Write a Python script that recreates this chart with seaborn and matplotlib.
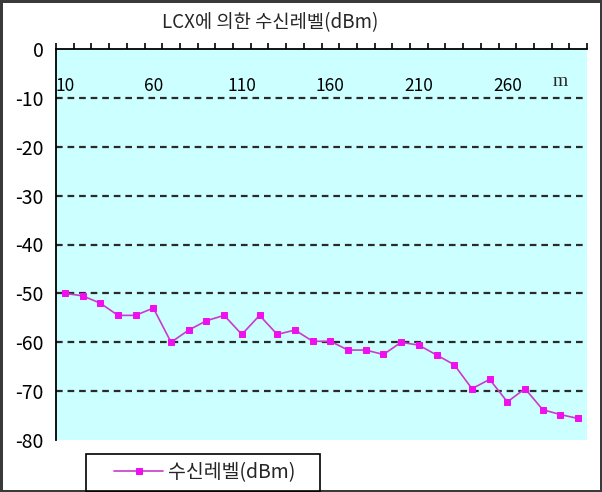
import matplotlib
matplotlib.use("Agg")
import matplotlib.pyplot as plt
from matplotlib.legend_handler import HandlerLine2D
import pandas as pd
import seaborn as sns

# Received level along the leaky coaxial cable (LCX), every 10 m
distance_m = [10, 20, 30, 40, 50, 60, 70, 80, 90, 100,
              110, 120, 130, 140, 150, 160, 170, 180, 190, 200,
              210, 220, 230, 240, 250, 260, 270, 280, 290, 300]
level_dbm = [-50.0, -50.5, -52.0, -54.5, -54.5, -53.0, -60.0, -57.5, -55.6, -54.5,
             -58.4, -54.5, -58.4, -57.5, -59.8, -59.8, -61.6, -61.6, -62.5, -60.0,
             -60.6, -62.6, -64.6, -69.5, -67.6, -72.2, -69.5, -73.8, -74.8, -75.6]
y_ticks = [0, -10, -20, -30, -40, -50, -60, -70, -80]
x_label_step = 5

title_text = "LCX에 의한 수신레벨(dBm)"
series_name = "수신레벨(dBm)"
unit_text = "m"

sns.set_style("white")
plt.rcParams["font.family"] = ["Noto Sans CJK KR", "DejaVu Sans"]

W, H = 602, 492
fig = plt.figure(figsize=(W / 100, H / 100), dpi=100, facecolor="white",
                 edgecolor="#3a3a3a", linewidth=2.5)

left, right, top, bottom = 56, 587, 49, 440
ax = fig.add_axes([left / W, 1 - bottom / H, (right - left) / W, (bottom - top) / H])
ax.set_facecolor("#ccffff")

df = pd.DataFrame({"distance": distance_m, "level": level_dbm})
sns.lineplot(data=df, x="distance", y="level", ax=ax, color="#c83cc8",
             linewidth=1.2, marker="s", markersize=5,
             markerfacecolor="#ee11ee", markeredgecolor="#ee11ee",
             legend=False)

step = distance_m[1] - distance_m[0]
ax.set_xlim(distance_m[0] - step / 2, distance_m[-1] + step / 2)
ax.set_ylim(y_ticks[-1], y_ticks[0])

# dashed guide lines for the interior levels
for yv in y_ticks[1:-1]:
    ax.axhline(yv, color="#2a2a2a", linewidth=1.6, linestyle=(0, (3, 2.2)), zorder=1)

for s in ("bottom", "right"):
    ax.spines[s].set_visible(False)
for s in ("top", "left"):
    ax.spines[s].set_color("black")
    ax.spines[s].set_linewidth(1.3)

# x axis sits on the 0 dBm line at the top
ax.xaxis.set_ticks_position("top")
ax.xaxis.set_label_position("top")
ax.set_xticks(distance_m[::x_label_step])
ax.set_xticklabels([str(d) for d in distance_m[::x_label_step]])
ax.set_xticks([d - step / 2 for d in distance_m] + [distance_m[-1] + step / 2], minor=True)
ax.tick_params(axis="x", which="major", length=0, pad=-33, labelsize=12.5, labelcolor="black")
ax.tick_params(axis="x", which="minor", length=4, width=1.2, direction="out", color="black")

ax.set_yticks(y_ticks)
ax.set_yticklabels([str(v) for v in y_ticks])
ax.tick_params(axis="y", length=0, pad=9, labelsize=14, labelcolor="black")
ax.set_xlabel("")
ax.set_ylabel("")

ax.text((560 - left) / (right - left), 1 - (81 - top) / (bottom - top), unit_text,
        transform=ax.transAxes, ha="center", va="center", fontsize=14,
        family="Liberation Serif")

fig.text(270 / W, 1 - 23 / H, title_text, ha="center", va="center", fontsize=13.5)

leg = fig.legend(handles=[ax.lines[0]], labels=[series_name + "    "],
                 loc="upper left", bbox_to_anchor=(86 / W, 1 - 454 / H),
                 borderaxespad=0, fancybox=False, frameon=True, framealpha=1,
                 edgecolor="black", fontsize=14, handlelength=3.55,
                 borderpad=0.4, handletextpad=0.25,
                 handler_map={ax.lines[0]: HandlerLine2D(xpad=1.05)})
leg.get_frame().set_linewidth(1.2)

fig.savefig("out.png", dpi=100)
